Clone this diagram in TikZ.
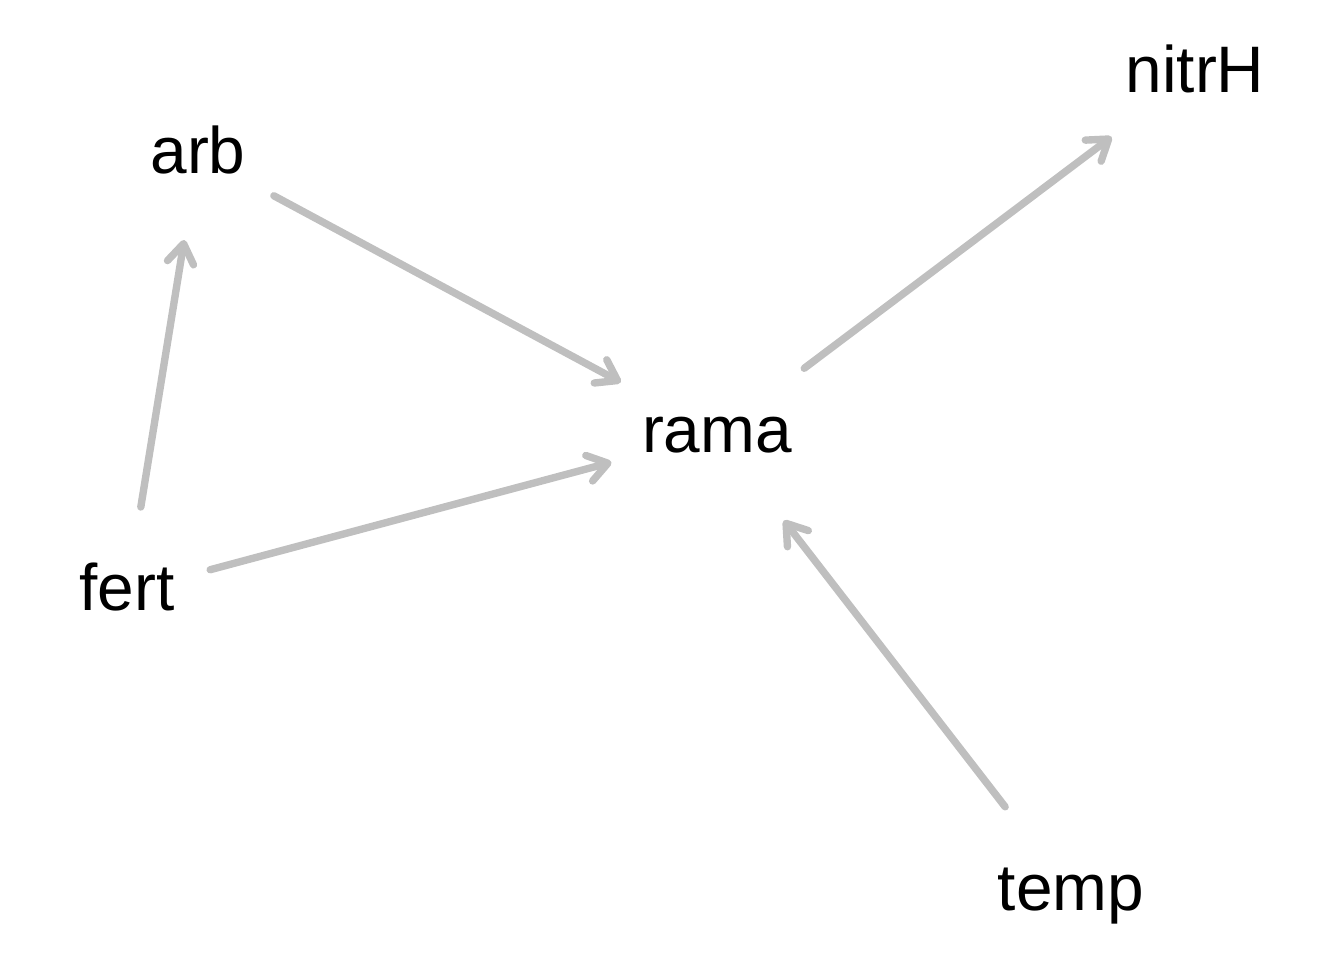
\documentclass[tikz,border=0pt]{standalone}
\usepackage{fontspec}
\setmainfont{Liberation Sans}
\usetikzlibrary{arrows.meta}

\begin{document}
\begin{tikzpicture}[x=0.01cm, y=-0.01cm,
    var/.style={circle, inner sep=6pt, outer sep=0pt, text height=14pt, text depth=3.7pt,
      font=\fontsize{18.7}{22}\selectfont},
    link/.style={draw=gray!50, line width=2.1pt, line cap=round,
      -{Straight Barb[length=5.5pt, width=7.5pt, round]}}]
  \useasboundingbox (0,0) rectangle (1344,960);
  \node[var] (arb) at (198,155) {arb};
  \node[var] (nitrH) at (1195,74) {nitrH};
  \node[var] (rama) at (717,434) {rama};
  \node[var] (fert) at (127,592) {fert};
  \node[var] (temp) at (1071,892) {temp};
  \foreach \a/\b in {fert/arb, arb/rama, fert/rama, rama/nitrH, temp/rama}
    \draw[link] (\a) -- (\b);
\end{tikzpicture}
\end{document}
